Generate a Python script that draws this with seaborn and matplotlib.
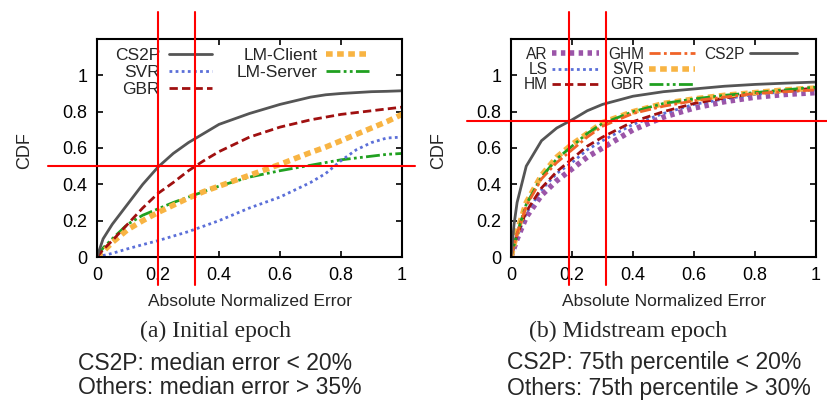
import numpy as np
import matplotlib
matplotlib.use("Agg")
from matplotlib import pyplot as plt
from matplotlib.lines import Line2D
import seaborn as sns

# curvas leidas a ojo de la figura (CDF del error absoluto normalizado)
x_ini = [0, 0.02, 0.05, 0.1, 0.15, 0.2, 0.25, 0.3, 0.35, 0.4, 0.5, 0.6, 0.7, 0.75, 0.8, 0.85, 0.9, 0.95, 1.0]
ini_cs2p = [0, 0.1, 0.18, 0.29, 0.40, 0.495, 0.57, 0.63, 0.68, 0.73, 0.79, 0.84, 0.88, 0.893, 0.9, 0.905, 0.91, 0.912, 0.915]
ini_svr = [0, 0.008, 0.02, 0.045, 0.068, 0.09, 0.115, 0.14, 0.17, 0.2, 0.27, 0.33, 0.41, 0.46, 0.53, 0.59, 0.63, 0.655, 0.66]
ini_gbr = [0, 0.04, 0.09, 0.18, 0.27, 0.35, 0.41, 0.475, 0.53, 0.58, 0.66, 0.715, 0.755, 0.77, 0.785, 0.795, 0.805, 0.815, 0.825]
ini_lmc = [0, 0.03, 0.08, 0.15, 0.2, 0.245, 0.285, 0.325, 0.36, 0.39, 0.45, 0.51, 0.575, 0.605, 0.64, 0.675, 0.71, 0.745, 0.785]
ini_lms = [0, 0.05, 0.1, 0.18, 0.23, 0.265, 0.3, 0.33, 0.36, 0.39, 0.44, 0.475, 0.505, 0.52, 0.535, 0.545, 0.555, 0.565, 0.57]

x_mid = [0, 0.01, 0.02, 0.05, 0.1, 0.15, 0.2, 0.25, 0.3, 0.4, 0.5, 0.6, 0.7, 0.8, 0.9, 1.0]
mid_ar = [0, 0.05, 0.1, 0.22, 0.34, 0.42, 0.485, 0.55, 0.6, 0.7, 0.77, 0.82, 0.855, 0.88, 0.895, 0.905]
mid_ls = [0, 0.055, 0.11, 0.24, 0.37, 0.46, 0.52, 0.59, 0.64, 0.73, 0.79, 0.84, 0.87, 0.895, 0.91, 0.92]
mid_hm = [0, 0.06, 0.12, 0.25, 0.38, 0.47, 0.54, 0.61, 0.66, 0.745, 0.8, 0.845, 0.875, 0.9, 0.915, 0.93]
mid_ghm = [0, 0.065, 0.13, 0.28, 0.43, 0.52, 0.59, 0.66, 0.72, 0.79, 0.83, 0.86, 0.88, 0.9, 0.91, 0.92]
mid_svr = [0, 0.07, 0.14, 0.3, 0.45, 0.55, 0.62, 0.68, 0.74, 0.8, 0.845, 0.87, 0.89, 0.905, 0.92, 0.93]
mid_gbr = [0, 0.065, 0.13, 0.29, 0.44, 0.54, 0.61, 0.68, 0.735, 0.8, 0.845, 0.87, 0.89, 0.905, 0.92, 0.935]
mid_cs2p = [0, 0.18, 0.3, 0.5, 0.64, 0.71, 0.755, 0.805, 0.84, 0.885, 0.91, 0.925, 0.94, 0.95, 0.957, 0.963]

ticks = [0, 0.2, 0.4, 0.6, 0.8, 1]
tick_labels = ['0', '0.2', '0.4', '0.6', '0.8', '1']

sns.set_style('ticks')
plt.rcParams['font.family'] = ['Liberation Sans', 'DejaVu Sans']

GRIS = '#555555'
AZUL = '#5b6fd8'
ROJO = '#a01010'
NARANJA = '#f8b443'
VERDE = '#20a020'
MORADO = '#9b55a8'
NAR_ROJO = '#f06428'

fig = plt.figure(figsize=(8.27, 4.0), dpi=100)
ax1 = fig.add_axes([97/827, 143/400, 305/827, 218/400])
ax2 = fig.add_axes([511/827, 143/400, 305/827, 218/400])

# estilos tipo gnuplot
estilo = {
    'CS2P': dict(color=GRIS, lw=2, dashes=''),
    'SVR_a': dict(color=AZUL, lw=2, dashes=(1, 1.2)),
    'GBR_a': dict(color=ROJO, lw=2, dashes=(3, 1.5)),
    'LMC': dict(color=NARANJA, lw=4, dashes=(1.2, 0.8)),
    'LMS': dict(color=VERDE, lw=2, dashes=(5, 1.2, 1, 1.2, 1, 1.2)),
}

sns.lineplot(x=x_ini, y=ini_lms, ax=ax1, label='LM-Server', **estilo['LMS'])
sns.lineplot(x=x_ini, y=ini_lmc, ax=ax1, label='LM-Client', **estilo['LMC'])
sns.lineplot(x=x_ini, y=ini_svr, ax=ax1, label='SVR', **estilo['SVR_a'])
sns.lineplot(x=x_ini, y=ini_gbr, ax=ax1, label='GBR', **estilo['GBR_a'])
sns.lineplot(x=x_ini, y=ini_cs2p, ax=ax1, label='CS2P', **estilo['CS2P'])

sns.lineplot(x=x_mid, y=mid_ar, ax=ax2, label='AR', color=MORADO, lw=4, dashes=(0.8, 0.8))
sns.lineplot(x=x_mid, y=mid_ls, ax=ax2, label='LS', color=AZUL, lw=2, dashes=(1, 1.2))
sns.lineplot(x=x_mid, y=mid_hm, ax=ax2, label='HM', color=ROJO, lw=2, dashes=(3, 1.5))
sns.lineplot(x=x_mid, y=mid_svr, ax=ax2, label='SVR', color=NARANJA, lw=4, dashes=(1.2, 0.8))
sns.lineplot(x=x_mid, y=mid_gbr, ax=ax2, label='GBR', color=VERDE, lw=2, dashes=(5, 1.2, 1, 1.2, 1, 1.2))
sns.lineplot(x=x_mid, y=mid_ghm, ax=ax2, label='GHM', color=NAR_ROJO, lw=2, dashes=(4, 1.2, 1, 1.2))
sns.lineplot(x=x_mid, y=mid_cs2p, ax=ax2, label='CS2P', color=GRIS, lw=2)

for ax in (ax1, ax2):
    ax.set_xlim(0, 1)
    ax.set_ylim(0, 1.2)
    ax.set_xticks(ticks)
    ax.set_xticklabels(tick_labels)
    ax.set_yticks(ticks)
    ax.set_yticklabels(tick_labels)
    ax.tick_params(direction='in', length=4, width=1.2, labelsize=13, pad=7,
                   top=True, right=True, colors='black')
    for s in ax.spines.values():
        s.set_linewidth(1.5)
        s.set_color('black')
    ax.set_xlabel('Absolute Normalized Error', fontsize=12.5)
    ax.set_ylabel('CDF', fontsize=13)
    ax.xaxis.set_label_coords(0.5, -0.17)
    ax.yaxis.set_label_coords(-0.21, 0.49)

# leyendas (etiqueta a la izquierda, muestra a la derecha)
h, l = ax1.get_legend_handles_labels()
orden = ['CS2P', 'SVR', 'GBR', 'LM-Client', 'LM-Server']
hh = [h[l.index(n)] for n in orden]
ax1.legend(hh, orden, ncol=2, loc='upper left', frameon=False, markerfirst=False,
           fontsize=12.5, handlelength=2.5, handletextpad=0.5, columnspacing=1.4,
           labelspacing=0.1, borderaxespad=0.1, bbox_to_anchor=(0.03, 1.0))

h, l = ax2.get_legend_handles_labels()
orden = ['AR', 'LS', 'HM', 'GHM', 'SVR', 'GBR', 'CS2P']
hh = [h[l.index(n)] for n in orden]
vacio = Line2D([], [], alpha=0)
ax2.legend(hh + [vacio, vacio], orden + ['', ''], ncol=3, loc='upper left', frameon=False,
           markerfirst=False, fontsize=11.2, handlelength=3.0, handletextpad=0.3,
           columnspacing=0.6, labelspacing=0.02, borderaxespad=0.1, bbox_to_anchor=(0.015, 1.0))

# lineas rojas de referencia (salen del recuadro)
rojo = dict(color='red', lw=1.5, clip_on=False, zorder=10)
for xv in (0.2, 0.32):
    ax1.axvline(xv, ymin=-0.128, ymax=1.124, **rojo)
ax1.axhline(0.5, xmin=-0.16, xmax=1.043, **rojo)
for xv in (0.19, 0.31):
    ax2.axvline(xv, ymin=-0.128, ymax=1.124, **rojo)
ax2.axhline(0.75, xmin=-0.144, xmax=1.036, **rojo)

# pies de figura
fig.text(215/827, 1 - 331/400, '(a) Initial epoch', ha='center', va='center',
         fontsize=17, family=['Liberation Serif', 'DejaVu Serif'])
fig.text(628/827, 1 - 331/400, '(b) Midstream epoch', ha='center', va='center',
         fontsize=17, family=['Liberation Serif', 'DejaVu Serif'])
fig.text(78/827, 1 - 363/400, 'CS2P: median error < 20%', ha='left', va='center', fontsize=16.5)
fig.text(78/827, 1 - 388/400, 'Others: median error > 35%', ha='left', va='center', fontsize=16.5)
fig.text(507/827, 1 - 363/400, 'CS2P: 75th percentile < 20%', ha='left', va='center', fontsize=16.5)
fig.text(507/827, 1 - 388/400, 'Others: 75th percentile > 30%', ha='left', va='center', fontsize=16.5)

fig.savefig('out.png', dpi=100)
